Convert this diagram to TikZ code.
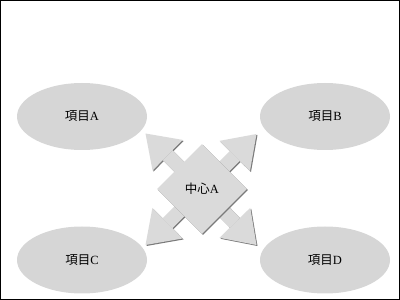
\documentclass[tikz,border=0pt]{standalone}
\usepackage{fontspec}
\setmainfont{Liberation Serif}
\newfontfamily\cjkfont{Noto Sans CJK JP}
\usetikzlibrary{arrows.meta, shapes.geometric}
\definecolor{itemgray}{HTML}{D6D6D6}
\definecolor{hubgray}{HTML}{DADADA}
\definecolor{edgegray}{HTML}{7A7A7A}

\tikzset{
  item/.style={ellipse, fill=itemgray, minimum width=130pt, minimum height=67pt, inner sep=0pt, font=\fontsize{12.5}{14}\selectfont},
  hub/.style={diamond, aspect=1, fill=hubgray, minimum width=90pt, minimum height=90pt, inner sep=0pt, font=\fontsize{12.5}{14}\selectfont},
  spoke/.style={hubgray, line width=14pt, -{Triangle[length=31pt, width=43pt, line width=0pt]}},
  spokeedge/.style={spoke, edgegray, transform canvas={xshift=1pt, yshift=-1pt}},
}

\begin{document}
\begin{tikzpicture}[x=1pt, y=1pt]

% Frame
\useasboundingbox (0,0) rectangle (400,300);
\draw[black, line width=1pt] (0.5,0.5) rectangle (399.5,299.5);

% Items
\node[item] (itemA) at (82,183.5) {{\cjkfont 項目}A};
\node[item] (itemB) at (325,183.5) {{\cjkfont 項目}B};
\node[item] (itemC) at (82,40) {{\cjkfont 項目}C};
\node[item] (itemD) at (325,40) {{\cjkfont 項目}D};

% Arrow tips
\coordinate (tipNW) at (145.5,166.5);
\coordinate (tipNE) at (256.5,166);
\coordinate (tipSW) at (145.5,55);
\coordinate (tipSE) at (256.5,55);
\coordinate (mid) at (202,111);

% Spokes (dark edge first)
\foreach \t in {tipNW,tipNE,tipSW,tipSE}
  \draw[spokeedge] (mid) -- (\t);
\foreach \t in {tipNW,tipNE,tipSW,tipSE}
  \draw[spoke] (mid) -- (\t);

% Centre
\node[hub, fill=edgegray] (hubedge) at (203,110) {};
\node[hub] (hubA) at (mid) {{\cjkfont 中心}A};

\end{tikzpicture}
\end{document}
